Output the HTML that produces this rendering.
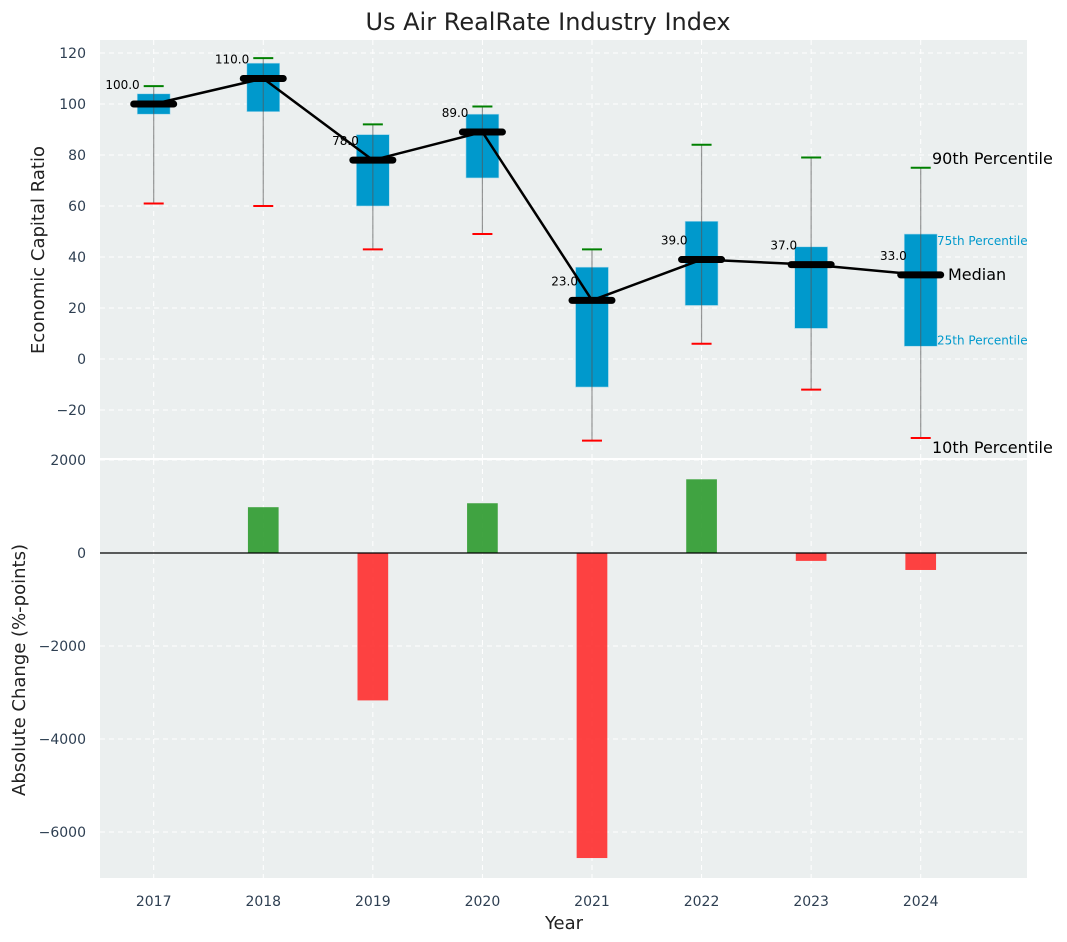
<!DOCTYPE html>
<html><head><meta charset="utf-8"><style>
html,body{margin:0;padding:0;background:#fff;}
svg{display:block;font-family:"DejaVu Sans","Liberation Sans",sans-serif;}
</style></head><body>
<svg id="chart" width="1067" height="942" viewBox="0 0 1067 942">
<text x="548" y="30" font-size="24" text-anchor="middle" fill="#222">Us Air RealRate Industry Index</text>
<g id="topPanel"></g>
<g id="botPanel"></g>
</svg>
<script>
const years=[2017,2018,2019,2020,2021,2022,2023,2024];
const medians=[100,110,78,89,23,39,37,33];
const q1=[96,97,60,71,-11,21,12,5];
const q3=[104,116,88,96,36,54,44,49];
const p10=[61,60,43,49,-32,6,-12,-31];
const p90=[107,118,92,99,43,84,79,75];
const changes=[0,985,-3170,1070,-6560,1585,-170,-365];
const topTicks=[-20,0,20,40,60,80,100,120];
const botTicks=[-6000,-4000,-2000,0,2000];

const NS="http://www.w3.org/2000/svg";
const L=100,R=1027;
const xs=v=>L+(v-2016.51)/(2024.97-2016.51)*(R-L);
const yt=v=>359-v*2.55;
const yb=v=>553-v*0.0465;
const TT=40,TB=458,BT=460,BB=878;
function el(p,t,a){const e=document.createElementNS(NS,t);for(const k in a)e.setAttribute(k,a[k]);p.appendChild(e);return e;}
const topG=document.getElementById('topPanel'),botG=document.getElementById('botPanel'),svg=document.getElementById('chart');

let bg=el(topG,'rect',{x:L,y:TT,width:R-L,height:TB-TT,fill:'#ebefef'});


let bg2=el(botG,'rect',{x:L,y:BT,width:R-L,height:BB-BT,fill:'#ebefef'});



years.forEach(y=>{
  let g=el(topG,'line',{x1:xs(y),x2:xs(y),y1:TT,y2:TB,stroke:'#fff','stroke-dasharray':'5,4','stroke-width':1});
  
  
  let g2=el(botG,'line',{x1:xs(y),x2:xs(y),y1:BT,y2:BB,stroke:'#fff','stroke-dasharray':'5,4','stroke-width':1});
  
  
  let t=el(svg,'text',{x:xs(y),y:906,'font-size':14,'text-anchor':'middle',fill:'#2e3f52'});
  t.textContent=y;
  
  
});
topTicks.forEach(v=>{
  let g=el(topG,'line',{x1:L,x2:R,y1:yt(v),y2:yt(v),stroke:'#fff','stroke-dasharray':'5,4'});
  
  
  let t=el(topG,'text',{x:L-14,y:yt(v)+5,'font-size':14,'text-anchor':'end',fill:'#2e3f52'});
  t.textContent=v<0?'\u2212'+(-v):v;
  
  
});
botTicks.forEach(v=>{
  let g=el(botG,'line',{x1:L,x2:R,y1:yb(v),y2:yb(v),stroke:'#fff','stroke-dasharray':'5,4'});
  
  
  let t=el(botG,'text',{x:L-14,y:yb(v)+5,'font-size':14,'text-anchor':'end',fill:'#2e3f52'});
  t.textContent=v<0?'\u2212'+(-v):v;
  
  
});
let sep=el(svg,'rect',{x:L,y:TB,width:R-L,height:BT-TB,fill:'#fff'});



const bw=0.3*(R-L)/(2024.97-2016.51);
years.forEach((y,i)=>{
  const x=xs(y);
  let b=el(topG,'rect',{x:x-bw/2,y:yt(q3[i]),width:bw,height:yt(q1[i])-yt(q3[i]),fill:'#0099cc',stroke:'#a8d8ea','stroke-width':0.6});
  
  
  let w=el(topG,'line',{x1:x,x2:x,y1:yt(p90[i]),y2:yt(p10[i]),stroke:'#555','stroke-opacity':0.6,'stroke-width':1.2});
  
  
  let c1=el(topG,'line',{x1:x-10,x2:x+10,y1:yt(p90[i]),y2:yt(p90[i]),stroke:'green','stroke-width':2});
  
  
  let c2=el(topG,'line',{x1:x-10,x2:x+10,y1:yt(p10[i]),y2:yt(p10[i]),stroke:'red','stroke-width':2});
  
  
});
let pts=years.map((y,i)=>xs(y)+','+yt(medians[i])).join(' ');
let pl=el(topG,'polyline',{points:pts,fill:'none',stroke:'#000','stroke-width':2.5});


years.forEach((y,i)=>{
  const x=xs(y);
  let m=el(topG,'line',{x1:x-20,x2:x+20,y1:yt(medians[i]),y2:yt(medians[i]),stroke:'#000','stroke-width':7,'stroke-linecap':'round'});
  
  
  let t=el(topG,'text',{x:x-14,y:yt(medians[i])-15,'font-size':12,'text-anchor':'end',fill:'#000'});
  t.textContent=medians[i].toFixed(1);
  
  
});
const annos=[['90th Percentile',p90[7],16,'#000',932,-4],['75th Percentile',q3[7],12,'#0099cc',937,11],['Median',medians[7],16,'#000',948,5],['25th Percentile',q1[7],12,'#0099cc',937,-2],['10th Percentile',p10[7],16,'#000',932,15]];
annos.forEach(a=>{
  let t=el(topG,'text',{x:a[4],y:yt(a[1])+a[5],'font-size':a[2],fill:a[3]});
  t.textContent=a[0];
  
  
});
const barw=0.28*(R-L)/(2024.97-2016.51);
years.forEach((y,i)=>{
  const v=changes[i]; if(v===0)return;
  let r=el(botG,'rect',{x:xs(y)-barw/2,y:Math.min(yb(v),yb(0)),width:barw,height:Math.abs(yb(v)-yb(0)),fill:v>0?'#2e9a2e':'#ff2d2d','fill-opacity':0.9});
  
  
});
let z=el(botG,'line',{x1:L,x2:R,y1:yb(0),y2:yb(0),stroke:'#000','stroke-width':1.2});



let yl1=el(svg,'text',{transform:'translate(44,250) rotate(-90)','font-size':18,'text-anchor':'middle',fill:'#222'});
yl1.textContent='Economic Capital Ratio';


let yl2=el(svg,'text',{transform:'translate(25,670) rotate(-90)','font-size':18,'text-anchor':'middle',fill:'#222'});
yl2.textContent='Absolute Change (%-points)';


let xl=el(svg,'text',{x:564,y:929,'font-size':18,'text-anchor':'middle',fill:'#222'});
xl.textContent='Year';


</script>
</body></html>
